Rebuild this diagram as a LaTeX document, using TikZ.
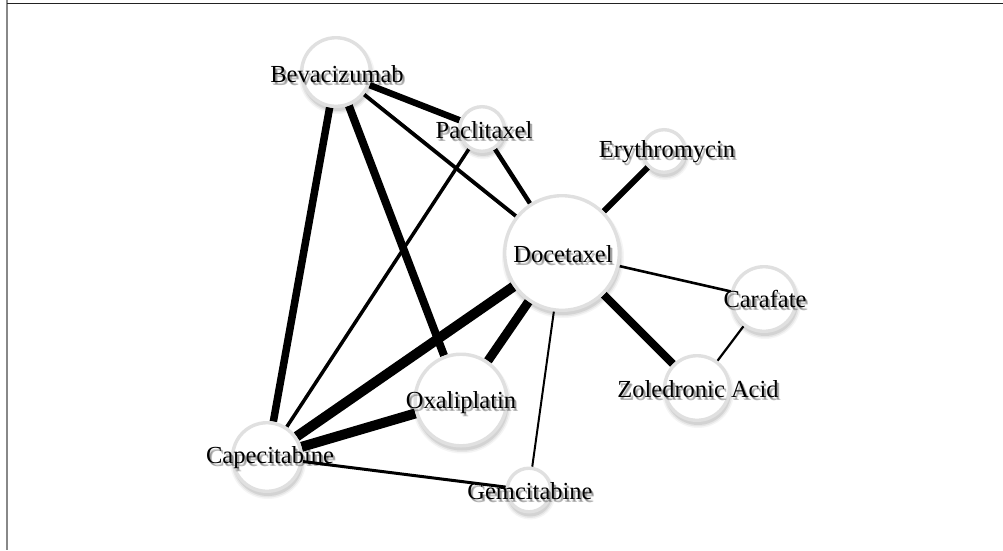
\documentclass[tikz,border=0pt]{standalone}
\usepackage{fontspec}
\setmainfont{Liberation Serif}
\pgfdeclarelayer{background}
\pgfdeclarelayer{edges}
\pgfsetlayers{background,edges,main}
\definecolor{ringgray}{RGB}{224,224,224}
\definecolor{framegray}{RGB}{136,136,136}
\definecolor{framedark}{RGB}{34,34,34}

% drug node: soft shadow underneath, then the white disc with its grey ring
\newcommand\drugdisc[4]{% name, x, y, outer radius
  \foreach \k/\o in {4/0.04, 2.5/0.06, 1/0.08}
    \fill[black, opacity=\o] (#2+1,#3+4) circle[radius={(#4+\k-2)*1pt}];
  \node[drug, minimum size={(2*#4-3.4)*1pt}] (#1) at (#2,#3) {};
}
% label with a soft, slightly blurred shadow behind it
\newcommand\druglabel[4]{% name, x, baseline y, text
  \foreach \dx/\dy in {1.5/2, 2.5/3, 2/3.8}
    \node[lbl, opacity=0.16] at (#2+\dx,#3+\dy) {#4};
  \node[lbl] (#1) at (#2,#3) {#4};
}

\begin{document}
\begin{tikzpicture}[x=1pt, y=-1pt,
  drug/.style={circle, draw=ringgray, line width=3.4pt, fill=white, inner sep=0pt},
  lbl/.style={font=\fontsize{24.5}{28}\selectfont, anchor=base, inner sep=0pt, text=black},
  link/.style={line width=#1, draw=black},
]
\begin{pgfonlayer}{background}
  \fill[white] (0,0) rectangle (1003,550);
\end{pgfonlayer}
\useasboundingbox (0,0) rectangle (1003,550);

% frame
\draw[framegray, line width=1.5pt] (7,0) -- (7,550);
\draw[framedark, line width=1.2pt] (7,3.5) -- (1003,3.5);

% drugs
\drugdisc{bev}{336}{72}{36}
\drugdisc{pac}{482}{129}{24}
\drugdisc{ery}{664}{151}{23}
\drugdisc{doc}{562}{253}{59}
\drugdisc{car}{764}{299}{34}
\drugdisc{zol}{697}{388}{34}
\drugdisc{oxa}{461}{400}{47.5}
\drugdisc{gem}{529}{490}{23.5}
\drugdisc{cap}{267}{457}{36}

% co-occurrence links, width by strength
\begin{pgfonlayer}{edges}
  \draw[link=6.5pt] (bev) -- (pac);
  \draw[link=3.8pt] (bev) -- (doc);
  \draw[link=7.5pt] (bev) -- (cap);
  \draw[link=8pt]   (bev) -- (oxa);
  \draw[link=4.5pt] (pac) -- (doc);
  \draw[link=3.5pt] (pac) -- (cap);
  \draw[link=6pt]   (ery) -- (doc);
  \draw[link=2.6pt] (doc) -- (car);
  \draw[link=8pt]   (doc) -- (zol);
  \draw[link=9pt]   (doc) -- (oxa);
  \draw[link=10pt]  (doc) -- (cap);
  \draw[link=2pt]   (doc) -- (gem);
  \draw[link=2.2pt] (car) -- (zol);
  \draw[link=10pt]  (oxa) -- (cap);
  \draw[link=3pt]   (cap) -- (gem);
\end{pgfonlayer}

% names
\druglabel{bevT}{337}{82}{Bevacizumab}
\druglabel{pacT}{484}{138}{Paclitaxel}
\druglabel{eryT}{667}{157}{Erythromycin}
\druglabel{docT}{563}{262}{Docetaxel}
\druglabel{carT}{765}{307}{Carafate}
\druglabel{zolT}{698}{397}{Zoledronic Acid}
\druglabel{oxaT}{461}{408}{Oxaliplatin}
\druglabel{gemT}{530}{499}{Gemcitabine}
\druglabel{capT}{270}{463}{Capecitabine}
\end{tikzpicture}
\end{document}
